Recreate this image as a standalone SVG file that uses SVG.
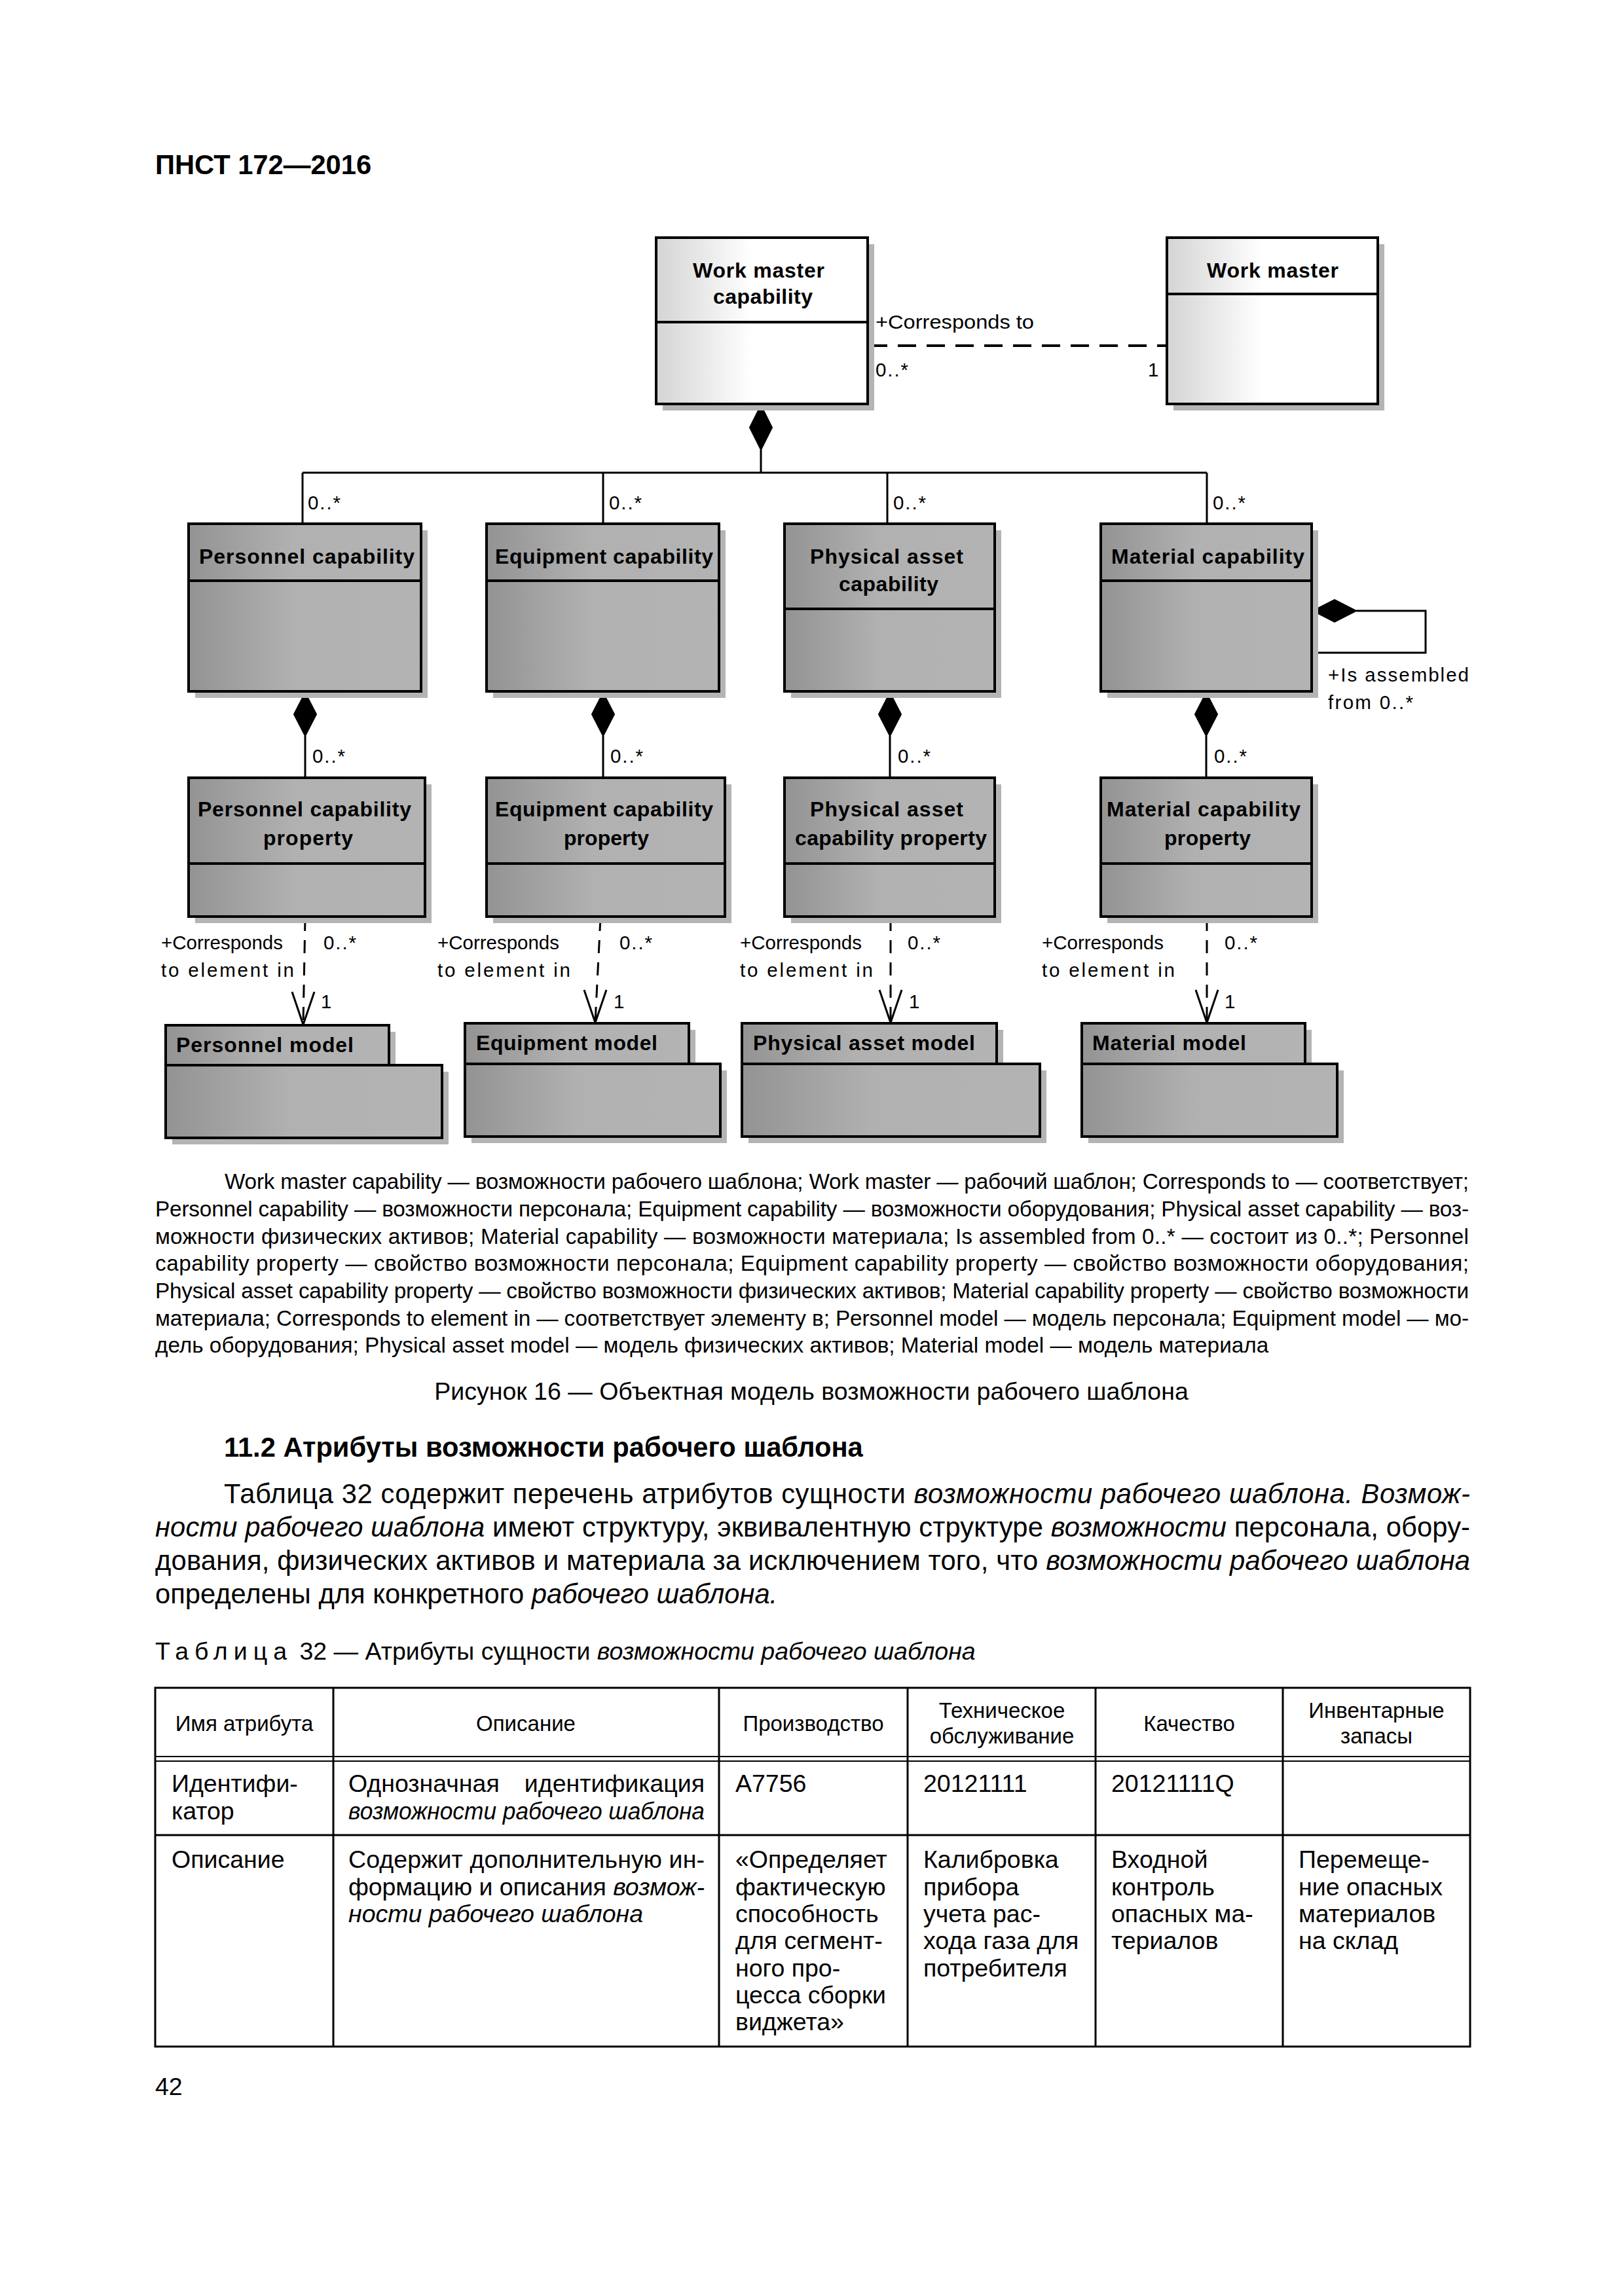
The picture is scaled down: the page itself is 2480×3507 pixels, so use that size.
<svg xmlns="http://www.w3.org/2000/svg" width="2480" height="3507" viewBox="0 0 2480 3507">
<defs>
<linearGradient id="gl" x1="0" x2="1" y1="0" y2="0"><stop offset="0" stop-color="#d4d4d4"/><stop offset="0.45" stop-color="#ffffff"/><stop offset="1" stop-color="#ffffff"/></linearGradient>
<linearGradient id="gd" x1="0" x2="1" y1="0" y2="0"><stop offset="0" stop-color="#939393"/><stop offset="0.45" stop-color="#b1b1b1"/><stop offset="1" stop-color="#b3b3b3"/></linearGradient>
<style>
text{font-family:"Liberation Sans",Arial,sans-serif;fill:#000}
.nb{font-size:32px;font-weight:bold}
.nr{font-size:29.5px}
.bl{fill:url(#gl);stroke:#000;stroke-width:4}
.bd{fill:url(#gd);stroke:#000;stroke-width:4}
.sh{fill:#b4b4b4}
.dv{stroke:#000;stroke-width:4}
.ln{stroke:#000;stroke-width:3;fill:none}
.dash{stroke:#000;stroke-width:4;fill:none;stroke-dasharray:28 16}
.dep{stroke:#000;stroke-width:3;fill:none;stroke-dasharray:20 14}
.dia{fill:#000;stroke:#000;stroke-width:2}
.cap{font-size:33.3px}
.body{font-size:41.7px}
.tb{font-size:37.5px}
.th{font-size:33px}
.grid{stroke:#000;stroke-width:3;fill:none}
.thin{stroke:#000;stroke-width:2;fill:none}
.it{font-style:italic}
</style>
</defs>
<rect width="2480" height="3507" fill="#fff"/>

<text id="page-header" x="237" y="266" font-size="41.7" font-weight="bold">ПНСТ 172—2016</text>

<g id="connectors">
  <line class="dash" x1="1327" y1="528" x2="1780" y2="528"/>
  <polyline class="ln" points="1162,687 1162,722"/>
  <polyline class="ln" points="462,722 1843,722"/>
  <line class="ln" x1="462" y1="722" x2="462" y2="800"/>
  <line class="ln" x1="921" y1="722" x2="921" y2="800"/>
  <line class="ln" x1="1355" y1="722" x2="1355" y2="800"/>
  <line class="ln" x1="1843" y1="722" x2="1843" y2="800"/>
  <polygon class="dia" points="1162,619 1179,653 1162,687 1145,653"/>
  <line class="ln" x1="466" y1="1124" x2="466" y2="1188"/>
  <line class="ln" x1="921" y1="1124" x2="921" y2="1188"/>
  <line class="ln" x1="1359" y1="1124" x2="1359" y2="1188"/>
  <line class="ln" x1="1842" y1="1124" x2="1842" y2="1188"/>
  <polygon class="dia" points="466,1058 483,1091 466,1124 449,1091"/>
  <polygon class="dia" points="921,1058 938,1091 921,1124 904,1091"/>
  <polygon class="dia" points="1359,1058 1376,1091 1359,1124 1342,1091"/>
  <polygon class="dia" points="1842,1058 1859,1091 1842,1124 1825,1091"/>
  <polyline class="ln" points="2071,933 2177,933 2177,997 2005,997"/>
  <polygon class="dia" points="2005,933 2038,916 2071,933 2038,950"/>
  <line class="dep" x1="466" y1="1402" x2="463" y2="1563"/>
  <polyline class="ln" points="446,1515 463,1565 480,1515"/>
  <line class="dep" x1="917" y1="1402" x2="909" y2="1561"/>
  <polyline class="ln" points="892,1512 909,1562 926,1512"/>
  <line class="dep" x1="1360" y1="1402" x2="1360" y2="1561"/>
  <polyline class="ln" points="1343,1512 1360,1562 1377,1512"/>
  <line class="dep" x1="1843" y1="1402" x2="1843" y2="1561"/>
  <polyline class="ln" points="1826,1512 1843,1562 1860,1512"/>
  <text class="nr" x="1337" y="502" textLength="242" lengthAdjust="spacingAndGlyphs">+Corresponds to</text>
  <text class="nr" x="1337" y="575" textLength="50">0..*</text>
  <text class="nr" x="1753" y="575">1</text>
  <text class="nr" x="470" y="778" textLength="50">0..*</text>
  <text class="nr" x="930" y="778" textLength="50">0..*</text>
  <text class="nr" x="1364" y="778" textLength="50">0..*</text>
  <text class="nr" x="1852" y="778" textLength="50">0..*</text>
  <text class="nr" x="477" y="1165" textLength="50">0..*</text>
  <text class="nr" x="932" y="1165" textLength="50">0..*</text>
  <text class="nr" x="1371" y="1165" textLength="50">0..*</text>
  <text class="nr" x="1854" y="1165" textLength="50">0..*</text>
  <text class="nr" x="2028" y="1041" textLength="215">+Is assembled</text>
  <text class="nr" x="2028" y="1083" textLength="130">from 0..*</text>
  <text class="nr" x="246" y="1450" textLength="186" lengthAdjust="spacingAndGlyphs">+Corresponds</text>
  <text class="nr" x="246" y="1492" textLength="203">to element in</text>
  <text class="nr" x="494" y="1450" textLength="50">0..*</text>
  <text class="nr" x="490" y="1540">1</text>
  <text class="nr" x="668" y="1450" textLength="186" lengthAdjust="spacingAndGlyphs">+Corresponds</text>
  <text class="nr" x="668" y="1492" textLength="203">to element in</text>
  <text class="nr" x="946" y="1450" textLength="50">0..*</text>
  <text class="nr" x="937" y="1540">1</text>
  <text class="nr" x="1130" y="1450" textLength="186" lengthAdjust="spacingAndGlyphs">+Corresponds</text>
  <text class="nr" x="1130" y="1492" textLength="203">to element in</text>
  <text class="nr" x="1386" y="1450" textLength="50">0..*</text>
  <text class="nr" x="1388" y="1540">1</text>
  <text class="nr" x="1591" y="1450" textLength="186" lengthAdjust="spacingAndGlyphs">+Corresponds</text>
  <text class="nr" x="1591" y="1492" textLength="203">to element in</text>
  <text class="nr" x="1870" y="1450" textLength="50">0..*</text>
  <text class="nr" x="1870" y="1540">1</text>
</g>

<g id="work-master-capability">
  <rect class="sh" x="1012" y="373" width="323" height="254"/>
  <rect class="bl" x="1002" y="363" width="323" height="254"/>
  <line class="dv" x1="1002" y1="492" x2="1325" y2="492"/>
  <text class="nb" x="1058" y="424" textLength="201">Work master</text>
  <text class="nb" x="1089" y="464" textLength="152">capability</text>
</g>
<g id="work-master">
  <rect class="sh" x="1792" y="373" width="322" height="254"/>
  <rect class="bl" x="1782" y="363" width="322" height="254"/>
  <line class="dv" x1="1782" y1="449" x2="2104" y2="449"/>
  <text class="nb" x="1843" y="424" textLength="201">Work master</text>
</g>

<g id="personnel-capability">
  <rect class="sh" x="298" y="810" width="355" height="256"/>
  <rect class="bd" x="288" y="800" width="355" height="256"/>
  <line class="dv" x1="288" y1="887" x2="643" y2="887"/>
  <text class="nb" x="304" y="861" textLength="329">Personnel capability</text>
</g>
<g id="equipment-capability">
  <rect class="sh" x="753" y="810" width="355" height="256"/>
  <rect class="bd" x="743" y="800" width="355" height="256"/>
  <line class="dv" x1="743" y1="887" x2="1098" y2="887"/>
  <text class="nb" x="756" y="861" textLength="333">Equipment capability</text>
</g>
<g id="physical-asset-capability">
  <rect class="sh" x="1208" y="810" width="321" height="256"/>
  <rect class="bd" x="1198" y="800" width="321" height="256"/>
  <line class="dv" x1="1198" y1="930" x2="1519" y2="930"/>
  <text class="nb" x="1237" y="861" textLength="234">Physical asset</text>
  <text class="nb" x="1281" y="903" textLength="152">capability</text>
</g>
<g id="material-capability">
  <rect class="sh" x="1691" y="810" width="322" height="256"/>
  <rect class="bd" x="1681" y="800" width="322" height="256"/>
  <line class="dv" x1="1681" y1="887" x2="2003" y2="887"/>
  <text class="nb" x="1697" y="861" textLength="295">Material capability</text>
</g>

<g id="personnel-capability-property">
  <rect class="sh" x="298" y="1198" width="361" height="212"/>
  <rect class="bd" x="288" y="1188" width="361" height="212"/>
  <line class="dv" x1="288" y1="1319" x2="649" y2="1319"/>
  <text class="nb" x="302" y="1247" textLength="326">Personnel capability</text>
  <text class="nb" x="402" y="1291" textLength="137">property</text>
</g>
<g id="equipment-capability-property">
  <rect class="sh" x="753" y="1198" width="364" height="212"/>
  <rect class="bd" x="743" y="1188" width="364" height="212"/>
  <line class="dv" x1="743" y1="1319" x2="1107" y2="1319"/>
  <text class="nb" x="756" y="1247" textLength="333">Equipment capability</text>
  <text class="nb" x="861" y="1291" textLength="130">property</text>
</g>
<g id="physical-asset-capability-property">
  <rect class="sh" x="1208" y="1198" width="321" height="212"/>
  <rect class="bd" x="1198" y="1188" width="321" height="212"/>
  <line class="dv" x1="1198" y1="1319" x2="1519" y2="1319"/>
  <text class="nb" x="1237" y="1247" textLength="234">Physical asset</text>
  <text class="nb" x="1214" y="1291" textLength="293">capability property</text>
</g>
<g id="material-capability-property">
  <rect class="sh" x="1691" y="1198" width="322" height="212"/>
  <rect class="bd" x="1681" y="1188" width="322" height="212"/>
  <line class="dv" x1="1681" y1="1319" x2="2003" y2="1319"/>
  <text class="nb" x="1690" y="1247" textLength="296">Material capability</text>
  <text class="nb" x="1778" y="1291" textLength="132">property</text>
</g>

<g id="personnel-model">
  <rect class="sh" x="263" y="1576" width="341" height="61"/>
  <rect class="sh" x="263" y="1637" width="422" height="111"/>
  <rect class="bd" x="253" y="1566" width="341" height="61"/>
  <rect class="bd" x="253" y="1627" width="422" height="111"/>
  <text class="nb" x="269" y="1607" textLength="271">Personnel model</text>
</g>
<g id="equipment-model">
  <rect class="sh" x="720" y="1573" width="342" height="62"/>
  <rect class="sh" x="720" y="1635" width="390" height="111"/>
  <rect class="bd" x="710" y="1563" width="342" height="62"/>
  <rect class="bd" x="710" y="1625" width="390" height="111"/>
  <text class="nb" x="727" y="1604" textLength="277">Equipment model</text>
</g>
<g id="physical-asset-model">
  <rect class="sh" x="1143" y="1573" width="389" height="62"/>
  <rect class="sh" x="1143" y="1635" width="455" height="111"/>
  <rect class="bd" x="1133" y="1563" width="389" height="62"/>
  <rect class="bd" x="1133" y="1625" width="455" height="111"/>
  <text class="nb" x="1150" y="1604" textLength="339">Physical asset model</text>
</g>
<g id="material-model">
  <rect class="sh" x="1662" y="1573" width="341" height="62"/>
  <rect class="sh" x="1662" y="1635" width="390" height="111"/>
  <rect class="bd" x="1652" y="1563" width="341" height="62"/>
  <rect class="bd" x="1652" y="1625" width="390" height="111"/>
  <text class="nb" x="1668" y="1604" textLength="235">Material model</text>
</g>

<g id="legend">
  <text class="cap" x="343" y="1816" textLength="1900" lengthAdjust="spacing">Work master capability — возможности рабочего шаблона; Work master — рабочий шаблон; Corresponds to — соответствует;</text>
  <text class="cap" x="237" y="1858" textLength="2006" lengthAdjust="spacing">Personnel capability — возможности персонала; Equipment capability — возможности оборудования; Physical asset capability — воз-</text>
  <text class="cap" x="237" y="1900" textLength="2006" lengthAdjust="spacing">можности физических активов; Material capability — возможности материала; Is assembled from 0..* — состоит из 0..*; Personnel</text>
  <text class="cap" x="237" y="1941" textLength="2006" lengthAdjust="spacing">capability property — свойство возможности персонала; Equipment capability property — свойство возможности оборудования;</text>
  <text class="cap" x="237" y="1983" textLength="2006" lengthAdjust="spacing">Physical asset capability property — свойство возможности физических активов; Material capability property — свойство возможности</text>
  <text class="cap" x="237" y="2025" textLength="2006" lengthAdjust="spacing">материала; Corresponds to element in — соответствует элементу в; Personnel model — модель персонала; Equipment model — мо-</text>
  <text class="cap" x="237" y="2066">дель оборудования; Physical asset model — модель физических активов; Material model — модель материала</text>
  <text x="1239" y="2138" font-size="37.5" text-anchor="middle">Рисунок 16 — Объектная модель возможности рабочего шаблона</text>
</g>

<g id="section-text">
  <text x="342" y="2225" font-size="41.7" font-weight="bold">11.2 Атрибуты возможности рабочего шаблона</text>
  <text class="body" x="342" y="2296" textLength="1903" lengthAdjust="spacing">Таблица 32 содержит перечень атрибутов сущности <tspan class="it">возможности рабочего шаблона. Возмож-</tspan></text>
  <text class="body" x="237" y="2347" textLength="2008" lengthAdjust="spacing"><tspan class="it">ности рабочего шаблона</tspan> имеют структуру, эквивалентную структуре <tspan class="it">возможности</tspan> персонала, обору-</text>
  <text class="body" x="237" y="2398" textLength="2008" lengthAdjust="spacing">дования, физических активов и материала за исключением того, что <tspan class="it">возможности рабочего шаблона</tspan></text>
  <text class="body" x="237" y="2449">определены для конкретного <tspan class="it">рабочего шаблона.</tspan></text>
  <text x="237" y="2535" font-size="37.5"><tspan letter-spacing="9">Таблица</tspan>  32 — Атрибуты сущности <tspan class="it">возможности рабочего шаблона</tspan></text>
</g>

<g id="table">
  <rect class="grid" x="237" y="2578" width="2008" height="548"/>
  <line class="grid" x1="509" y1="2578" x2="509" y2="3126"/>
  <line class="grid" x1="1098" y1="2578" x2="1098" y2="3126"/>
  <line class="grid" x1="1386" y1="2578" x2="1386" y2="3126"/>
  <line class="grid" x1="1673" y1="2578" x2="1673" y2="3126"/>
  <line class="grid" x1="1959" y1="2578" x2="1959" y2="3126"/>
  <line class="thin" x1="237" y1="2683" x2="2245" y2="2683"/>
  <line class="thin" x1="237" y1="2690" x2="2245" y2="2690"/>
  <line class="grid" x1="237" y1="2803" x2="2245" y2="2803"/>
  <g text-anchor="middle" class="th">
    <text class="th" x="373" y="2644">Имя атрибута</text>
    <text class="th" x="803" y="2644">Описание</text>
    <text class="th" x="1242" y="2644">Производство</text>
    <text class="th" x="1530" y="2624">Техническое</text>
    <text class="th" x="1530" y="2663">обслуживание</text>
    <text class="th" x="1816" y="2644">Качество</text>
    <text class="th" x="2102" y="2624">Инвентарные</text>
    <text class="th" x="2102" y="2663">запасы</text>
  </g>
  <text class="tb" x="262" y="2737">Идентифи-</text>
  <text class="tb" x="262" y="2779">катор</text>
  <text class="tb" x="532" y="2737">Однозначная</text>
  <text class="tb" x="1076" y="2737" text-anchor="end">идентификация</text>
  <text class="tb it" x="532" y="2779" textLength="544" lengthAdjust="spacingAndGlyphs">возможности рабочего шаблона</text>
  <text class="tb" x="1123" y="2737">A7756</text>
  <text class="tb" x="1410" y="2737">20121111</text>
  <text class="tb" x="1697" y="2737">20121111Q</text>

  <text class="tb" x="262" y="2853">Описание</text>
  <text class="tb" x="532" y="2853" textLength="544" lengthAdjust="spacing">Содержит дополнительную ин-</text>
  <text class="tb" x="532" y="2895" textLength="544" lengthAdjust="spacing">формацию и описания <tspan class="it">возмож-</tspan></text>
  <text class="tb it" x="532" y="2936">ности рабочего шаблона</text>
  <text class="tb" x="1123" y="2853">«Определяет</text>
  <text class="tb" x="1123" y="2895">фактическую</text>
  <text class="tb" x="1123" y="2936">способность</text>
  <text class="tb" x="1123" y="2977">для сегмент-</text>
  <text class="tb" x="1123" y="3019">ного про-</text>
  <text class="tb" x="1123" y="3060">цесса сборки</text>
  <text class="tb" x="1123" y="3101">виджета»</text>
  <text class="tb" x="1410" y="2853">Калибровка</text>
  <text class="tb" x="1410" y="2895">прибора</text>
  <text class="tb" x="1410" y="2936">учета рас-</text>
  <text class="tb" x="1410" y="2977">хода газа для</text>
  <text class="tb" x="1410" y="3019">потребителя</text>
  <text class="tb" x="1697" y="2853">Входной</text>
  <text class="tb" x="1697" y="2895">контроль</text>
  <text class="tb" x="1697" y="2936">опасных ма-</text>
  <text class="tb" x="1697" y="2977">териалов</text>
  <text class="tb" x="1983" y="2853">Перемеще-</text>
  <text class="tb" x="1983" y="2895">ние опасных</text>
  <text class="tb" x="1983" y="2936">материалов</text>
  <text class="tb" x="1983" y="2977">на склад</text>
</g>

<text id="page-number" x="237" y="3200" font-size="37.5">42</text>
</svg>
